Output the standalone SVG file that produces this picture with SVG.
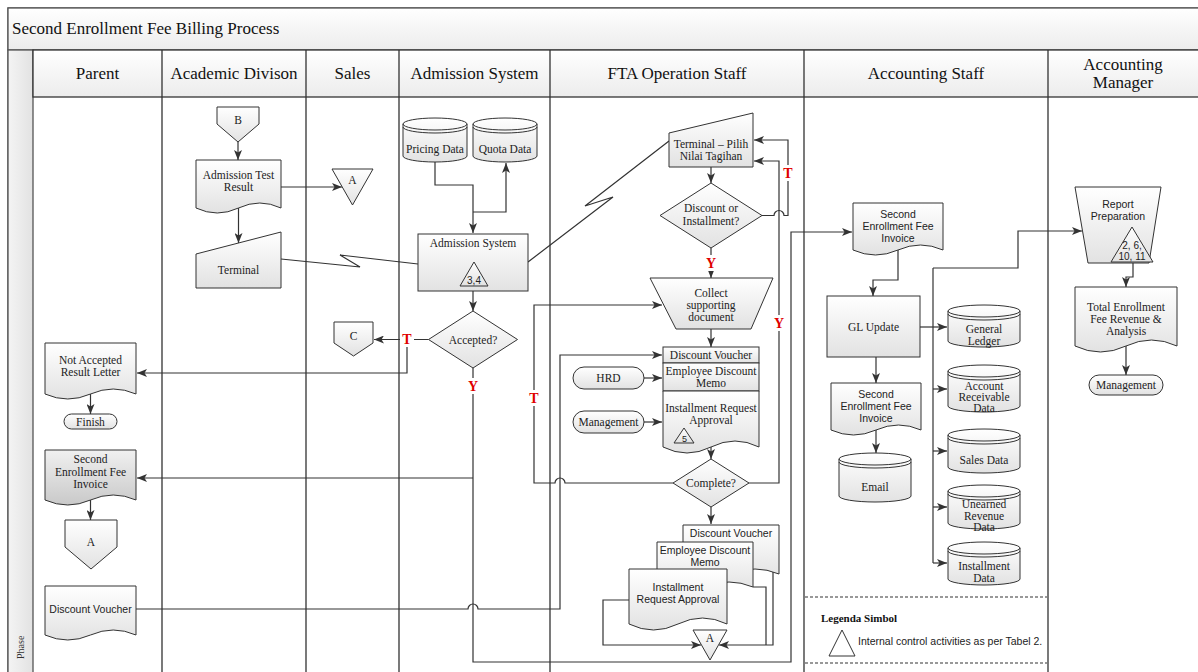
<svg xmlns="http://www.w3.org/2000/svg" width="1198" height="672" viewBox="0 0 1198 672">
<defs>
<linearGradient id="g1" x1="0" y1="0" x2="0" y2="1"><stop offset="0" stop-color="#ffffff"/><stop offset="1" stop-color="#e2e2e2"/></linearGradient>
<linearGradient id="g2" x1="0" y1="0" x2="0" y2="1"><stop offset="0" stop-color="#f0f0f0"/><stop offset="1" stop-color="#c9c9c9"/></linearGradient>
<linearGradient id="gh" x1="0" y1="0" x2="0" y2="1"><stop offset="0" stop-color="#ffffff"/><stop offset="1" stop-color="#ececec"/></linearGradient>
<linearGradient id="gs" x1="0" y1="0" x2="1" y2="0"><stop offset="0" stop-color="#f4f4f4"/><stop offset="1" stop-color="#e2e2e2"/></linearGradient>
<marker id="ah" markerWidth="10" markerHeight="8" refX="10" refY="4" orient="auto" markerUnits="userSpaceOnUse"><path d="M0,0 L10,4 L0,8 L2.5,4 Z" fill="#333"/></marker>
</defs>
<style>
.ln{fill:none;stroke:#333;stroke-width:1.2}
.arr{fill:none;stroke:#333;stroke-width:1.2;marker-end:url(#ah)}
.nd{fill:url(#g1);stroke:#333;stroke-width:1}
.nd2{fill:url(#g2);stroke:#333;stroke-width:1}
.cyl{fill:none;stroke:#333;stroke-width:1}
.t{font-family:"Liberation Serif","Times New Roman",serif;font-size:11.5px;fill:#222;text-anchor:middle}
.s{font-family:"Liberation Sans",Arial,sans-serif;font-size:10.5px;fill:#222;text-anchor:middle}
.h{font-family:"Liberation Serif","Times New Roman",serif;font-size:17px;fill:#111;text-anchor:middle}
.lbl{font-family:"Liberation Serif","Times New Roman",serif;font-size:14px;font-weight:bold;fill:#e00000;text-anchor:middle}
.lane{fill:none;stroke:#333;stroke-width:1.3}
.dash{fill:none;stroke:#333;stroke-width:1.2;stroke-dasharray:3,2}
</style>

<!-- frame -->
<g id="frame">
<rect x="8" y="8" width="1195" height="670" fill="#ffffff" stroke="#555" stroke-width="1.3"/>
<rect x="8" y="8" width="1195" height="42" fill="url(#gh)" stroke="#555" stroke-width="1.3"/>
<rect x="8" y="50" width="25" height="630" fill="url(#gs)" stroke="#555" stroke-width="1.3"/>
<rect x="33" y="50" width="1170" height="47" fill="url(#gh)" stroke="#333" stroke-width="1.3"/>
<text x="12" y="34" style="font-family:'Liberation Serif','Times New Roman',serif;font-size:17px;fill:#111">Second Enrollment Fee Billing Process</text>
<text transform="translate(24,659) rotate(-90)" style="font-family:'Liberation Serif','Times New Roman',serif;font-size:10px;fill:#333">Phase</text>
<path class="lane" d="M162,50 V680 M306,50 V680 M399,50 V680 M550,50 V680 M804,50 V680 M1048,50 V680"/>
<text class="h" x="97.5" y="79">Parent</text>
<text class="h" x="234" y="79">Academic Divison</text>
<text class="h" x="352.5" y="79">Sales</text>
<text class="h" x="474.5" y="79">Admission System</text>
<text class="h" x="677" y="79">FTA Operation Staff</text>
<text class="h" x="926" y="79">Accounting Staff</text>
<text class="h" x="1123" y="70">Accounting</text>
<text class="h" x="1123" y="88">Manager</text>
</g>

<!-- connectors -->
<g id="connectors">
<path class="arr" d="M238,142 V160"/>
<path class="arr" d="M281,187 H342"/>
<path class="arr" d="M238.5,208 V243"/>
<polyline class="ln" points="281,259 360,267 340,255 418,264"/>
<path class="arr" d="M435,162 V185 H473 V233"/>
<path class="arr" d="M473,212 H506 V163"/>
<path class="arr" d="M473,291 V311"/>
<path class="arr" d="M428.5,339.5 H374"/>
<path class="arr" d="M407,339.5 V373 H137"/>
<path class="arr" d="M473,368 V662 H791 V232 H852"/>
<path class="arr" d="M473,478 H137"/>
<path class="arr" d="M136,609 H468 A5,5 0 0 1 478,609 H560 V355 H662"/>
<polyline class="ln" points="528,262 613,197 585,206 669,141"/>
<path class="arr" d="M711,167 V183"/>
<path class="arr" d="M762,215.5 H774 A5,5 0 0 1 784,215.5 H788 V140 H754"/>
<path class="arr" d="M711,248 V278"/>
<path class="arr" d="M711,329 V347"/>
<path class="arr" d="M644,378 H662"/>
<path class="arr" d="M644,422 H662"/>
<path class="arr" d="M711,447 V459"/>
<path class="arr" d="M673,483 H565 A5,5 0 0 0 555,483 H534 V305 H662"/>
<path class="arr" d="M749,483 H779 V161 H754"/>
<path class="arr" d="M711,507 V524"/>
<path class="arr" d="M629,600 H603 V645 H701"/>
<path class="ln" d="M753,587 H766 V645"/>
<path class="arr" d="M773,572 V645 H719"/>
<path class="arr" d="M898,250 V280 H873 V296"/>
<path class="arr" d="M920,327 H947"/>
<path class="ln" d="M933,268 V563"/>
<path class="arr" d="M933,268 H1018 V231 H1082"/>
<path class="arr" d="M933,389 H947"/>
<path class="arr" d="M933,451 H947"/>
<path class="arr" d="M933,507 H947"/>
<path class="arr" d="M933,563 H947"/>
<path class="arr" d="M876,357 V383"/>
<path class="arr" d="M876,430 V453"/>
<path class="arr" d="M1133,263 V277 H1126 V287"/>
<path class="arr" d="M1126,346 V375"/>
<path class="arr" d="M90.5,394 V414"/>
<path class="arr" d="M90.5,500 V520"/>
<rect x="400" y="331" width="14" height="16" fill="#fff"/>
<text class="lbl" x="407" y="344">T</text>
<rect x="466" y="378" width="14" height="16" fill="#fff"/>
<text class="lbl" x="473" y="391">Y</text>
<rect x="781" y="165" width="14" height="16" fill="#fff"/>
<text class="lbl" x="788" y="178">T</text>
<rect x="704" y="255" width="14" height="16" fill="#fff"/>
<text class="lbl" x="711" y="268">Y</text>
<rect x="527" y="390" width="14" height="16" fill="#fff"/>
<text class="lbl" x="534" y="403">T</text>
<rect x="772" y="315" width="14" height="16" fill="#fff"/>
<text class="lbl" x="779" y="328">Y</text>
</g>

<!-- Academic Division -->
<g id="offpage-B"><polygon class="nd" points="217,107 259,107 259,124 238,142 217,124"/><text class="t" x="238" y="124">B</text></g>
<g id="doc-admission-test-result"><path class="nd" d="M196,160 H281 V208 Q259.75,198 238.5,208 T196,208 Z"/><text class="t" x="238.5" y="179">Admission Test</text><text class="t" x="238.5" y="191">Result</text></g>
<g id="offpage-A1"><polygon class="nd" points="332,169 373,169 352.5,205"/><text class="t" x="352.5" y="184">A</text></g>
<g id="terminal"><polygon class="nd" points="196,254 281,232 281,288 196,288"/><text class="t" x="238.5" y="274">Terminal</text></g>

<!-- Admission System -->
<g id="pricing-data"><path class="nd" d="M403,124 A32,6 0 0 1 467,124 V156 A32,6 0 0 1 403,156 Z"/><path class="cyl" d="M403,124 A32,6 0 0 0 467,124 M403,127 A32,6 0 0 0 467,127"/><text class="t" x="435" y="153">Pricing Data</text></g>
<g id="quota-data"><path class="nd" d="M473,124 A32,6 0 0 1 537,124 V156 A32,6 0 0 1 473,156 Z"/><path class="cyl" d="M473,124 A32,6 0 0 0 537,124 M473,127 A32,6 0 0 0 537,127"/><text class="t" x="505" y="153">Quota Data</text></g>
<g id="admission-system"><rect class="nd" x="418" y="234" width="110" height="57"/><text class="t" x="473" y="247">Admission System</text><polygon class="nd" points="474,262 488,286 460,286"/><text class="s" x="474" y="284" style="font-size:10px">3,4</text></g>
<g id="accepted"><polygon class="nd" points="473,311 517.5,339.5 473,368 428.5,339.5"/><text class="t" x="473" y="343.5">Accepted?</text></g>
<g id="offpage-C"><polygon class="nd" points="334,322 373,322 373,343 353.5,356 334,343"/><text class="t" x="353.5" y="340">C</text></g>

<!-- FTA Operation Staff -->
<g id="terminal-pilih"><polygon class="nd" points="669,133 753,113 753,167 669,167"/><text class="t" x="711" y="148">Terminal – Pilih</text><text class="t" x="711" y="160">Nilai Tagihan</text></g>
<g id="discount-or-installment"><polygon class="nd" points="711,183 762,215.5 711,248 660,215.5"/><text class="t" x="711" y="212">Discount or</text><text class="t" x="711" y="225">Installment?</text></g>
<g id="collect"><polygon class="nd" points="650,278 773,278 751,329 676,329"/><text class="t" x="711" y="297">Collect</text><text class="t" x="711" y="309">supporting</text><text class="t" x="711" y="321">document</text></g>
<g id="discount-voucher-1"><rect class="nd" x="663" y="347" width="96" height="16"/><text class="t" x="711" y="359">Discount Voucher</text></g>
<g id="employee-memo-1"><rect class="nd" x="663" y="363" width="96" height="28"/><text class="t" x="711" y="375">Employee Discount</text><text class="t" x="711" y="387">Memo</text></g>
<g id="installment-approval-1"><path class="nd" d="M663,391 H759 V447 Q735,435 711,447 T663,447 Z"/><text class="t" x="711" y="412">Installment Request</text><text class="t" x="711" y="424">Approval</text><polygon class="nd" points="684,428 694,443 674,443"/><text class="s" x="684.5" y="441.5" style="font-size:9px">5</text></g>
<g id="hrd"><rect class="nd" x="573" y="367" width="71" height="22" rx="11"/><text class="t" x="608.5" y="382">HRD</text></g>
<g id="management-1"><rect class="nd" x="573" y="411" width="71" height="22" rx="11"/><text class="t" x="608.5" y="426">Management</text></g>
<g id="complete"><polygon class="nd" points="711,459 749,483 711,507 673,483"/><text class="t" x="711" y="487">Complete?</text></g>
<g id="discount-voucher-2"><path class="nd" d="M683,525 H779 V574 Q755,564 731,574 T683,574 Z"/><text class="s" x="731" y="537">Discount Voucher</text></g>
<g id="employee-memo-2"><path class="nd" d="M657,542 H753 V587 Q729,577 705,587 T657,587 Z"/><text class="s" x="705" y="554">Employee Discount</text><text class="s" x="705" y="566">Memo</text></g>
<g id="installment-approval-2"><path class="nd" d="M629,569 H727 V624 Q702.5,612 678,624 T629,624 Z"/><text class="s" x="678" y="591">Installment</text><text class="s" x="678" y="603">Request Approval</text></g>
<g id="offpage-A2"><polygon class="nd" points="693,630 727,630 710,660"/><text class="t" x="710" y="642">A</text></g>

<!-- Accounting Staff -->
<g id="invoice-acc-1"><path class="nd" d="M853,203 H943 V250 Q920.5,240 898,250 T853,250 Z"/><text class="s" x="898" y="218">Second</text><text class="s" x="898" y="230">Enrollment Fee</text><text class="s" x="898" y="242">Invoice</text></g>
<g id="gl-update"><rect class="nd" x="827" y="296" width="93" height="61"/><text class="t" x="873.5" y="331">GL Update</text></g>
<g id="general-ledger"><path class="nd" d="M948,311 A36,6 0 0 1 1020,311 V341 A36,6 0 0 1 948,341 Z"/><path class="cyl" d="M948,311 A36,6 0 0 0 1020,311 M948,314 A36,6 0 0 0 1020,314"/><text class="t" x="984" y="333">General</text><text class="t" x="984" y="345">Ledger</text></g>
<g id="account-receivable"><path class="nd" d="M948,371 A36,6 0 0 1 1020,371 V406 A36,6 0 0 1 948,406 Z"/><path class="cyl" d="M948,371 A36,6 0 0 0 1020,371 M948,374 A36,6 0 0 0 1020,374"/><text class="t" x="984" y="390">Account</text><text class="t" x="984" y="401">Receivable</text><text class="t" x="984" y="412">Data</text></g>
<g id="sales-data"><path class="nd" d="M948,435 A36,6 0 0 1 1020,435 V467 A36,6 0 0 1 948,467 Z"/><path class="cyl" d="M948,435 A36,6 0 0 0 1020,435 M948,438 A36,6 0 0 0 1020,438"/><text class="t" x="984" y="464">Sales Data</text></g>
<g id="unearned-revenue"><path class="nd" d="M948,491 A36,6 0 0 1 1020,491 V523 A36,6 0 0 1 948,523 Z"/><path class="cyl" d="M948,491 A36,6 0 0 0 1020,491 M948,494 A36,6 0 0 0 1020,494"/><text class="t" x="984" y="508">Unearned</text><text class="t" x="984" y="520">Revenue</text><text class="t" x="984" y="531">Data</text></g>
<g id="installment-data"><path class="nd" d="M948,548 A36,6 0 0 1 1020,548 V579 A36,6 0 0 1 948,579 Z"/><path class="cyl" d="M948,548 A36,6 0 0 0 1020,548 M948,551 A36,6 0 0 0 1020,551"/><text class="t" x="984" y="570">Installment</text><text class="t" x="984" y="582">Data</text></g>
<g id="invoice-acc-2"><path class="nd" d="M831,383 H921 V430 Q898.5,420 876,430 T831,430 Z"/><text class="s" x="876" y="398">Second</text><text class="s" x="876" y="410">Enrollment Fee</text><text class="s" x="876" y="422">Invoice</text></g>
<g id="email"><path class="nd" d="M839,459 A36,6 0 0 1 911,459 V496 A36,6 0 0 1 839,496 Z"/><path class="cyl" d="M839,459 A36,6 0 0 0 911,459 M839,462 A36,6 0 0 0 911,462"/><text class="t" x="875" y="491">Email</text></g>
<g id="legend">
<path class="dash" d="M805,597 H1047 M805,663 H1047"/>
<text x="821" y="622" style="font-family:'Liberation Serif','Times New Roman',serif;font-size:11px;font-weight:bold;fill:#111">Legenda Simbol</text>
<polygon points="842,630 855,656 829,656" fill="#fff" stroke="#333" stroke-width="1"/>
<text x="858" y="645" style="font-family:'Liberation Sans',Arial,sans-serif;font-size:10.5px;fill:#222">Internal control activities as per Tabel 2.</text>
</g>

<!-- Accounting Manager -->
<g id="report-preparation"><polygon class="nd" points="1075,187 1161,187 1149,263 1088,263"/><text class="s" x="1118" y="208">Report</text><text class="s" x="1118" y="220">Preparation</text><polygon class="nd" points="1132,227 1153,262 1111,262"/><text class="s" x="1132" y="249" style="font-size:10px">2, 6,</text><text class="s" x="1132" y="260" style="font-size:10px">10, 11</text></g>
<g id="total-revenue"><path class="nd" d="M1075,287 H1177 V346 Q1151.5,334 1126,346 T1075,346 Z"/><text class="t" x="1126" y="311">Total Enrollment</text><text class="t" x="1126" y="323">Fee Revenue &amp;</text><text class="t" x="1126" y="335">Analysis</text></g>
<g id="management-2"><rect class="nd" x="1089" y="375" width="74" height="20" rx="10"/><text class="t" x="1126" y="389">Management</text></g>

<!-- Parent -->
<g id="not-accepted-letter"><path class="nd" d="M45,343 H136 V394 Q113.25,384 90.5,394 T45,394 Z"/><text class="t" x="90.5" y="364">Not Accepted</text><text class="t" x="90.5" y="376">Result Letter</text></g>
<g id="finish"><rect class="nd" x="64" y="414" width="53" height="15" rx="7.5"/><text class="t" x="90.5" y="426">Finish</text></g>
<g id="invoice-parent"><path class="nd2" d="M45,450 H136 V500 Q113.25,490 90.5,500 T45,500 Z"/><text class="t" x="90.5" y="463">Second</text><text class="t" x="90.5" y="476">Enrollment Fee</text><text class="t" x="90.5" y="488">Invoice</text></g>
<g id="offpage-A3"><polygon class="nd" points="65,520 117,520 117,547 91,569 65,547"/><text class="t" x="91" y="546">A</text></g>
<g id="discount-voucher-parent"><path class="nd" d="M45,586 H136 V635 Q113.25,625 90.5,635 T45,635 Z"/><text class="s" x="90.5" y="613">Discount Voucher</text></g>
</svg>
